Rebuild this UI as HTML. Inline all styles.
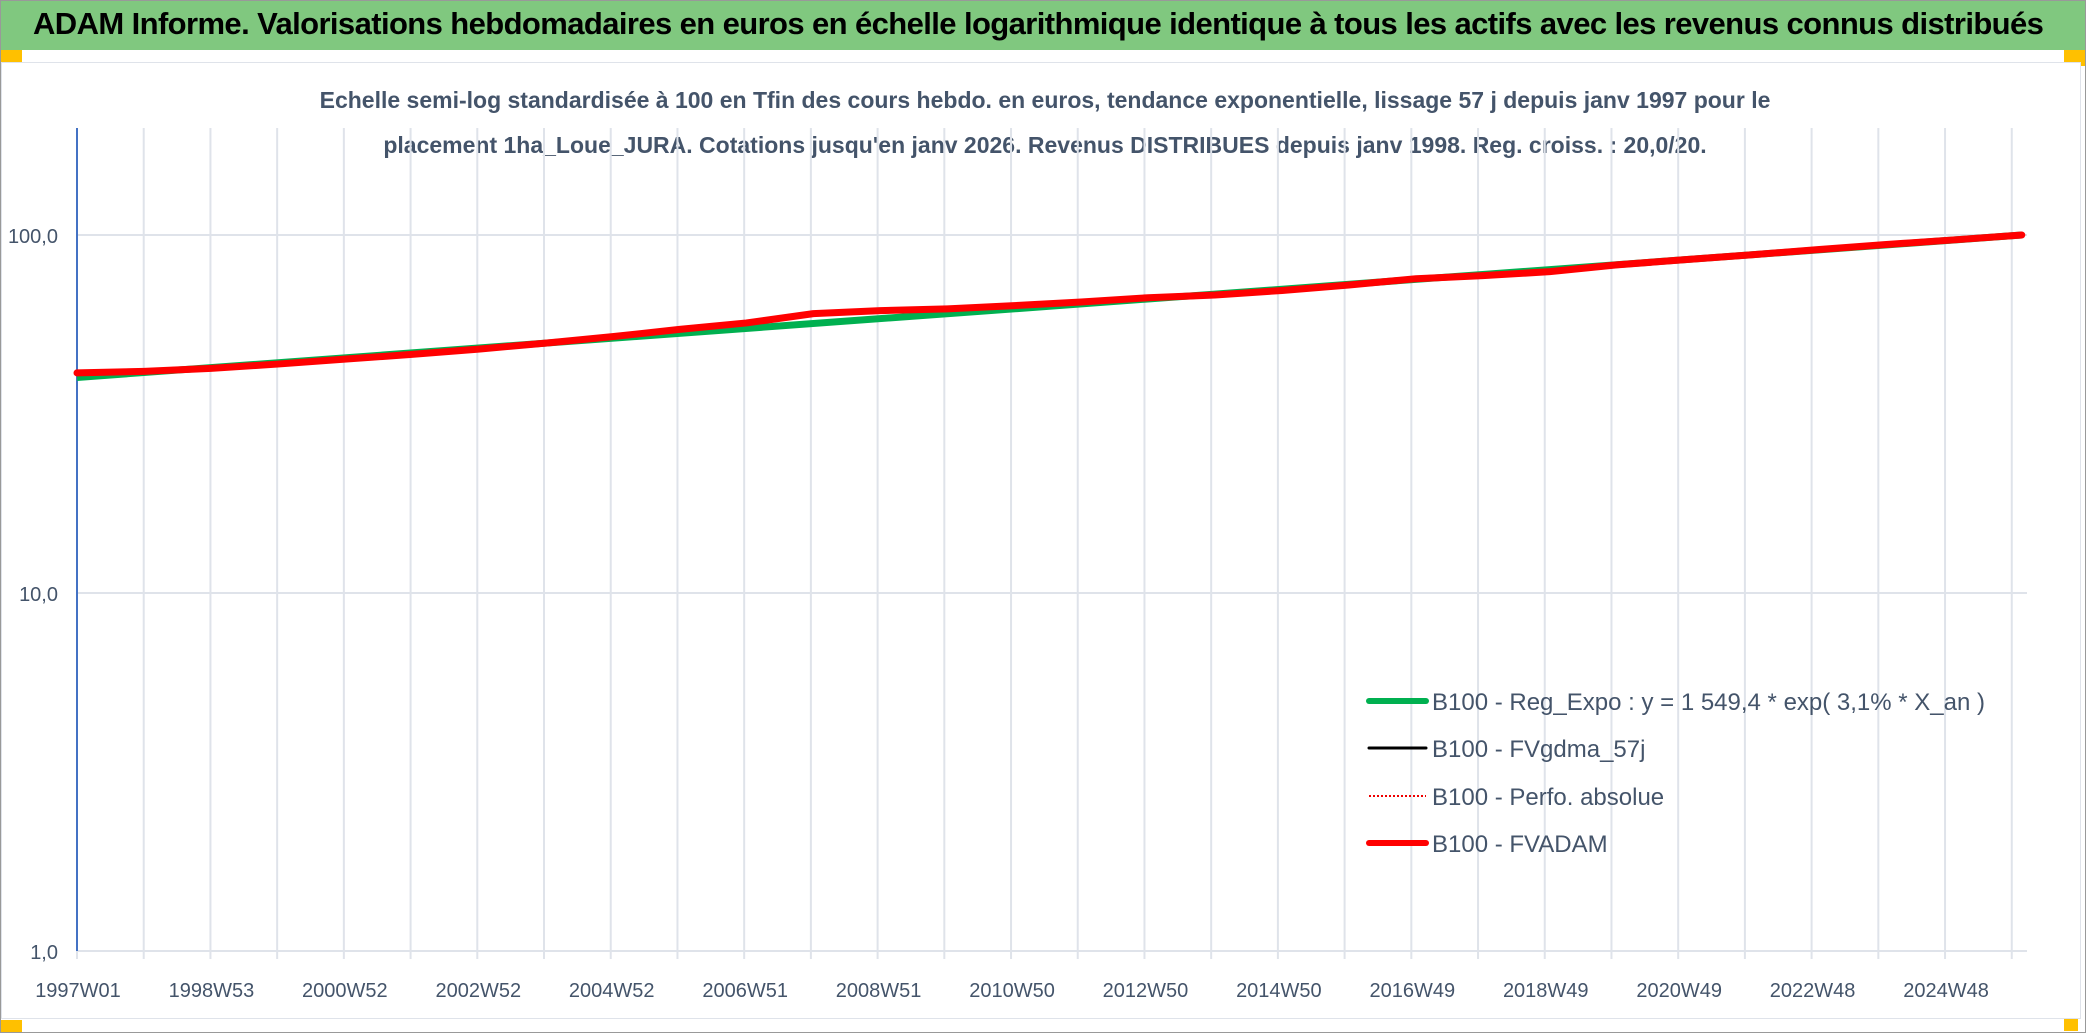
<!DOCTYPE html>
<html><head><meta charset="utf-8">
<style>
html,body{margin:0;padding:0;background:#fff;}
body{width:2086px;height:1033px;overflow:hidden;position:relative;font-family:"Liberation Sans",sans-serif;}
</style></head>
<body>
<div style="position:absolute;left:0;top:0;width:2084px;height:1031px;border:1px solid #999;"></div>
<div style="position:absolute;left:1px;top:1px;width:2084px;height:49px;background:#80c87f;"></div>
<div style="position:absolute;left:33px;top:6px;font-size:31px;font-weight:bold;color:#000;white-space:nowrap;letter-spacing:-0.6px;">ADAM Informe. Valorisations hebdomadaires en euros en échelle logarithmique identique à tous les actifs avec les revenus connus distribués</div>
<div style="position:absolute;left:1px;top:50px;width:21px;height:12px;background:#ffc000;"></div>
<div style="position:absolute;left:2064px;top:50px;width:21px;height:16px;background:#ffc000;"></div>
<div style="position:absolute;left:1px;top:1020px;width:21px;height:12px;background:#ffc000;"></div>
<div style="position:absolute;left:2064px;top:975px;width:14px;height:56px;background:#ffc000;"></div>
<div style="position:absolute;left:1px;top:62px;width:2078px;height:955px;border:1px solid #dfe3ea;background:#fff;"></div>
<svg id="chart" width="2086" height="1033" style="position:absolute;left:0;top:0;">
<text x="1045" y="108" text-anchor="middle" font-family="Liberation Sans, sans-serif" font-size="23" font-weight="bold" fill="#44546a">Echelle semi-log standardisée à 100 en Tfin des cours hebdo. en euros, tendance exponentielle, lissage 57 j depuis janv 1997 pour le</text>
<text x="1045" y="153" text-anchor="middle" font-family="Liberation Sans, sans-serif" font-size="23" font-weight="bold" fill="#44546a">placement 1ha_Loue_JURA. Cotations jusqu'en janv 2026. Revenus DISTRIBUES depuis janv 1998. Reg. croiss. : 20,0/20.</text>
<g id="grid"></g><g id="axes"></g><g id="series"></g>
<g font-family="Liberation Sans, sans-serif" font-size="24" fill="#44546a">
 <g><line x1="1369" y1="701" x2="1426" y2="701" stroke="#00b050" stroke-width="6" stroke-linecap="round"/><text x="1432" y="710">B100 - Reg_Expo : y = 1 549,4 * exp( 3,1% *  X_an )</text></g>
 <g><line x1="1369" y1="748" x2="1426" y2="748" stroke="#000" stroke-width="3" stroke-linecap="round"/><text x="1432" y="757">B100 - FVgdma_57j</text></g>
 <g><line x1="1369" y1="796" x2="1426" y2="796" stroke="#e00" stroke-width="2" stroke-dasharray="2,2"/><text x="1432" y="805">B100 - Perfo. absolue</text></g>
 <g><line x1="1369" y1="843" x2="1426" y2="843" stroke="#ff0000" stroke-width="6" stroke-linecap="round"/><text x="1432" y="852">B100 - FVADAM</text></g>
</g>
</svg>
<script>
const xLabels=["1997W01","1998W53","2000W52","2002W52","2004W52","2006W51","2008W51","2010W50","2012W50","2014W50","2016W49","2018W49","2020W49","2022W48","2024W48"];
const yTicks=[1,10,100];
const yTickLabels=["1,0","10,0","100,0"];
const redYears=[1997,1998,1999,2000,2001,2002,2003,2004,2005,2006,2007,2008,2009,2010,2011,2012,2013,2014,2015,2016,2017,2018,2019,2020,2021,2022,2023,2024,2025,2026.05];
const redValues=[41.2,41.6,42.4,43.6,45.0,46.4,48.0,49.9,52.0,54.5,56.8,60.3,61.5,62.2,63.5,65.0,66.8,68.0,70.0,72.5,75.5,77.0,79.0,82.5,85.3,88.0,91.0,94.0,96.8,100];
const greenStart=[1997,40.0];
const greenEnd=[2026.05,100];
const NS="http://www.w3.org/2000/svg";
const X0=77,PXW=1.283,YTOP=128,Y100=235,DEC=358;
function xWeek(w){return X0+w*PXW;}
function xYear(y){return xWeek((y-1997)*52.18);}
function yv(v){return Y100-Math.log10(v/100)*DEC;}
function el(t,a,p){const e=document.createElementNS(NS,t);for(const k in a)e.setAttribute(k,a[k]);p.appendChild(e);return e;}
const grid=document.getElementById('grid'),axes=document.getElementById('axes'),series=document.getElementById('series');
const yB=yv(1);
for(let i=0;i<=29;i++){const x=xWeek(i*52);
 const g=el('line',{x1:x,y1:YTOP,x2:x,y2:yB+8,stroke:'#dfe3ea','stroke-width':2},grid);
 
 }
yTicks.forEach((t,i)=>{const y=yv(t);
 const g=el('line',{x1:X0,y1:y,x2:2027,y2:y,stroke:'#dfe3ea','stroke-width':2},grid);
 
 
 const tx=el('text',{x:58,y:y+8,'text-anchor':'end','font-family':'Liberation Sans, sans-serif','font-size':20,fill:'#44546a'},axes);
 tx.textContent=yTickLabels[i];
 
 });
xLabels.forEach((l,i)=>{const tx=el('text',{x:xWeek(i*104)+1,y:yB+46,'text-anchor':'middle','font-family':'Liberation Sans, sans-serif','font-size':20,fill:'#44546a'},axes);
 tx.textContent=l;
 
 });
const ya=el('line',{x1:X0,y1:YTOP,x2:X0,y2:yB,stroke:'#4472c4','stroke-width':2},axes);


const gl=el('line',{x1:xYear(greenStart[0]),y1:yv(greenStart[1]),x2:xYear(greenEnd[0]),y2:yv(greenEnd[1]),stroke:'#00b050','stroke-width':7},series);


let d='';
redYears.forEach((yr,i)=>{const x=xYear(yr),y=yv(redValues[i]);d+=(i===0?'M':' L')+x+','+y;});
const rl=el('path',{d:d,fill:'none',stroke:'#ff0000','stroke-width':7,'stroke-linejoin':'round','stroke-linecap':'round'},series);


</script>
</body></html>
